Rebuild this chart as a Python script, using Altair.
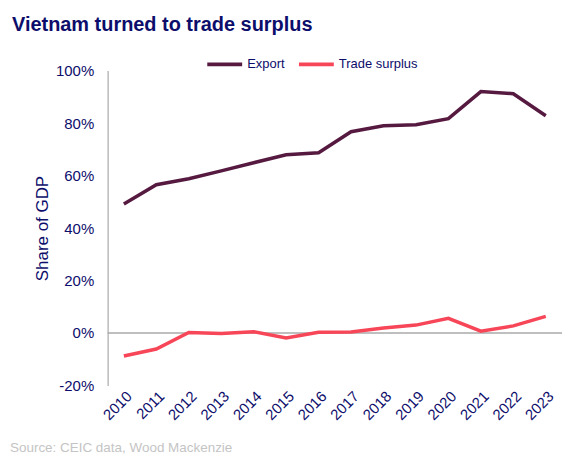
import altair as alt
import pandas as pd

years = [str(y) for y in range(2010, 2024)]
export = [49.2, 56.5, 58.8, 61.8, 64.9, 67.9, 68.7, 76.7, 79.0, 79.4, 81.7, 92.0, 91.2, 82.8]
surplus = [-8.8, -6.1, 0.2, -0.2, 0.5, -1.9, 0.3, 0.4, 1.9, 3.0, 5.6, 0.7, 2.7, 6.3]

df = pd.DataFrame({
    "Year": years * 2,
    "Series": ["Export"] * len(years) + ["Trade surplus"] * len(years),
    "Value": [v / 100 for v in export] + [v / 100 for v in surplus],
})

NAVY = "#0d0d6b"
FONT = "Liberation Sans"

x = alt.X("Year:O", sort=years, title=None,
          scale=alt.Scale(paddingOuter=0.5),
          axis=alt.Axis(labelAngle=-45, domain=False, ticks=False, labelFontSize=15,
                        labelColor=NAVY, labelFont=FONT, labelPadding=3))
y = alt.Y("Value:Q", title="Share of GDP",
          scale=alt.Scale(domain=[-0.2, 1.0], nice=False),
          axis=alt.Axis(values=[-0.2, 0, 0.2, 0.4, 0.6, 0.8, 1.0],
                        labelExpr="replace(format(datum.value, '.0%'), '\u2212', '-')",
                        grid=False, ticks=False, domainColor="#bbbbbb", domainWidth=1.5,
                        labelFontSize=15, labelColor=NAVY, labelFont=FONT, labelPadding=14,
                        titleFontSize=17, titleFontWeight="normal", titleColor=NAVY,
                        titleFont=FONT, titlePadding=4))

zero = alt.Chart(pd.DataFrame({"z": [0]})).mark_rule(color="#aaaaaa", strokeWidth=1.5).encode(y="z:Q")

lines = alt.Chart(df).mark_line(strokeWidth=3.5).encode(
    x=x, y=y,
    color=alt.Color("Series:N",
                    scale=alt.Scale(domain=["Export", "Trade surplus"], range=["#561a40", "#f74658"]),
                    legend=alt.Legend(title=None, orient="none", legendX=98, legendY=-26,
                                      direction="horizontal", symbolType="stroke",
                                      symbolSize=1225, symbolStrokeWidth=4,
                                      labelFontSize=13, labelColor=NAVY, labelFont=FONT,
                                      labelOffset=3, columnPadding=6)),
)

source = alt.Chart(pd.DataFrame({"t": ["Source: CEIC data, Wood Mackenzie"]})).mark_text(
    align="left", baseline="middle", fontSize=13.5, color="#c4c4c4", font=FONT
).encode(text="t:N", x=alt.value(-98), y=alt.value(379))

chart = alt.layer(zero, lines, source).properties(
    width=456, height=316,
    autosize=alt.AutoSizeParams(type="none"),
    padding={"left": 100, "top": 62, "right": 0, "bottom": 77},
    title=alt.TitleParams("Vietnam turned to trade surplus", anchor="start", frame="group",
                          dx=-96, fontSize=20, fontWeight="bold", color=NAVY, font=FONT,
                          offset=10),
).configure_view(stroke=None)

chart.save("out.html", embed_options={"renderer": "svg", "actions": False})
